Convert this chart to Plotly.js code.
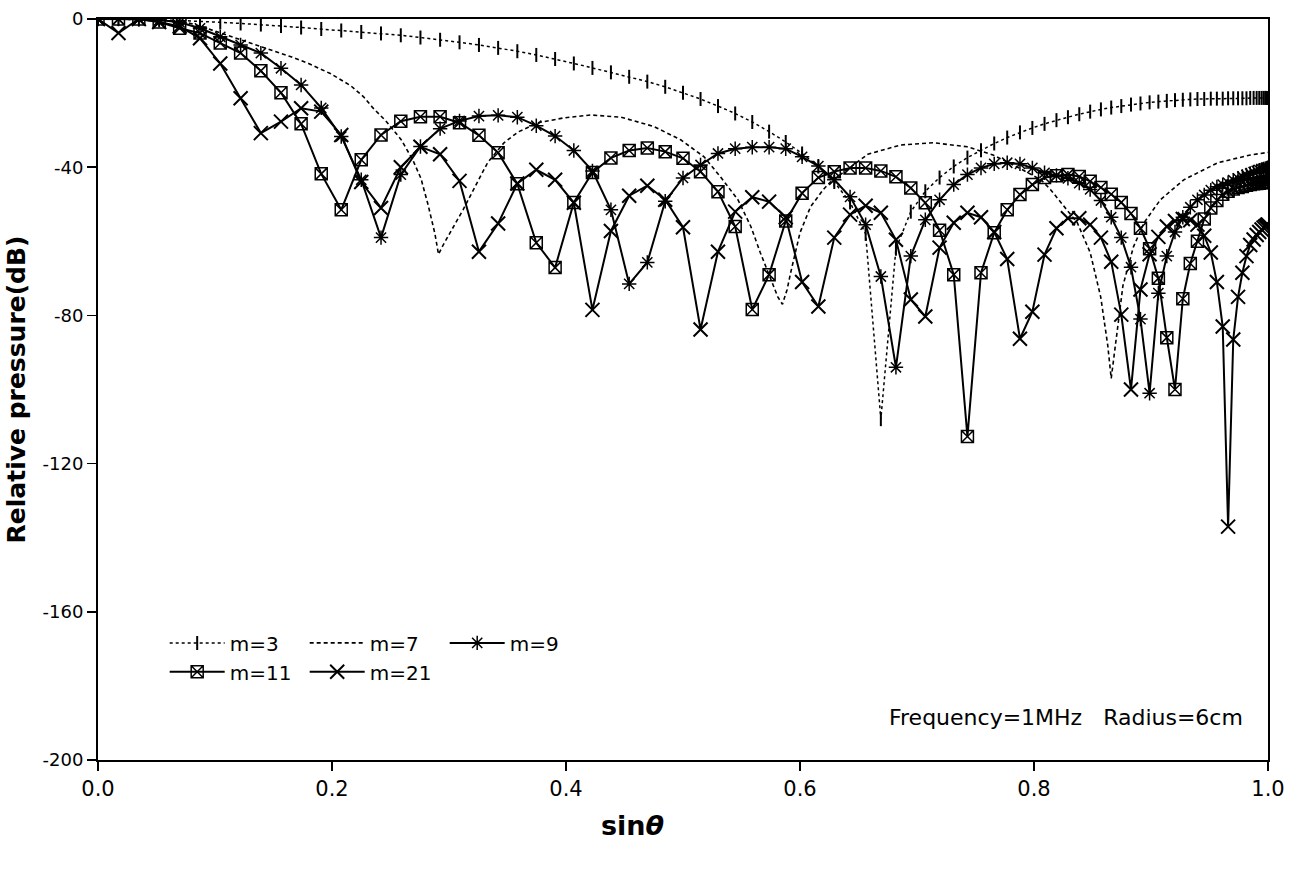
<!DOCTYPE html>
<html>
<head>
<meta charset="utf-8">
<script src="https://cdn.plot.ly/plotly-3.0.1.min.js"></script>
<style>html,body{margin:0;padding:0;background:#fff;}#chart{width:1300px;height:872px;}</style>
</head>
<body>
<div id="chart"></div>
<script>
// sin(theta) sampled every degree from 0 to 90
const sinTheta = [0,0.0175,0.0349,0.0523,0.0698,0.0872,0.1045,0.1219,0.1392,0.1564,
0.1736,0.1908,0.2079,0.2250,0.2419,0.2588,0.2756,0.2924,0.3090,0.3256,
0.3420,0.3584,0.3746,0.3907,0.4067,0.4226,0.4384,0.4540,0.4695,0.4848,
0.5000,0.5150,0.5299,0.5446,0.5592,0.5736,0.5878,0.6018,0.6157,0.6293,
0.6428,0.6561,0.6691,0.6820,0.6947,0.7071,0.7193,0.7314,0.7431,0.7547,
0.7660,0.7771,0.7880,0.7986,0.8090,0.8192,0.8290,0.8387,0.8480,0.8572,
0.8660,0.8746,0.8829,0.8910,0.8988,0.9063,0.9135,0.9205,0.9272,0.9336,
0.9397,0.9455,0.9511,0.9563,0.9613,0.9659,0.9703,0.9744,0.9781,0.9816,
0.9848,0.9877,0.9903,0.9925,0.9945,0.9962,0.9976,0.9986,0.9994,0.9998,1.0000];

const m3 = [0,0,-0.1,-0.2,-0.4,-0.6,-0.9,-1.2,-1.5,-1.9,
-2.3,-2.7,-3.1,-3.5,-3.9,-4.4,-5.0,-5.6,-6.3,-7.0,
-7.8,-8.7,-9.7,-10.8,-12.0,-13.2,-14.4,-15.6,-16.9,-18.3,
-19.9,-21.6,-23.5,-25.5,-27.8,-30.4,-33.2,-36.3,-39.8,-44.0,
-49.5,-58,-108,-62,-52,-46.5,-42.8,-39.8,-37.4,-35.4,
-33.6,-32.0,-30.6,-29.4,-28.3,-27.3,-26.5,-25.7,-25.0,-24.4,
-23.9,-23.5,-23.1,-22.8,-22.5,-22.3,-22.1,-21.9,-21.8,-21.7,
-21.6,-21.6,-21.5,-21.5,-21.5,-21.4,-21.4,-21.4,-21.4,-21.4,
-21.3,-21.3,-21.3,-21.3,-21.3,-21.3,-21.3,-21.3,-21.3,-21.3,-21.3];

const m9 = [0,0,-0.1,-0.3,-0.9,-2.5,-4.8,-7.0,-9.2,-13.3,
-17.8,-24.0,-31.7,-43.4,-59.0,-42.0,-34.4,-29.6,-27.5,-26.2,
-26.0,-26.5,-28.8,-31.6,-35.5,-41.0,-51.5,-71.5,-65.7,-49.2,
-42.9,-39.4,-36.3,-35.0,-34.6,-34.6,-35.0,-37.2,-39.7,-43.4,
-48.0,-55.5,-69.5,-94.0,-64.0,-54.2,-48.8,-44.7,-42.0,-40.2,
-39.1,-38.8,-39.1,-40.2,-41.5,-42.2,-43.0,-44.3,-46.0,-49.0,
-53.5,-59.0,-67.0,-81.0,-101.0,-74.0,-64.0,-57.5,-53.5,-50.8,
-48.8,-47.5,-46.2,-45.3,-44.7,-44.2,-43.5,-43.0,-42.5,-42.1,
-41.7,-41.3,-41.0,-40.8,-40.6,-40.5,-40.4,-40.3,-40.2,-40.2,-40.2];

const m11 = [0,0,0,-0.8,-2.5,-3.8,-6.5,-9.2,-14.0,-19.9,
-28.3,-41.8,-51.5,-38.0,-31.3,-27.6,-26.4,-26.4,-28.0,-31.4,
-36.1,-44.5,-60.4,-67.1,-49.5,-41.4,-37.5,-35.5,-34.8,-35.8,
-37.6,-41.2,-46.6,-56.0,-78.4,-69.0,-54.5,-47.0,-42.8,-41.2,
-40.2,-40.2,-41.0,-42.6,-45.6,-49.6,-57.0,-69.0,-112.7,-68.5,
-57.7,-51.5,-47.4,-44.7,-42.8,-42.3,-42.0,-42.5,-43.8,-45.5,
-47.3,-49.5,-52.5,-56.5,-62.0,-70.0,-86.0,-100.0,-75.5,-66.0,
-60.0,-54.0,-51.0,-49.0,-47.3,-46.5,-45.9,-45.5,-45.2,-44.9,
-44.7,-44.5,-44.4,-44.3,-44.2,-44.1,-44.0,-44.0,-44.0,-44.0,-44.0];

const m21 = [0,-3.8,0,-0.8,-2.0,-5.2,-12.0,-21.4,-30.8,-27.7,
-24.1,-25.0,-31.3,-44.0,-51.0,-40.0,-34.5,-36.5,-43.7,-62.8,
-55.2,-44.4,-40.7,-43.4,-49.6,-78.5,-57.2,-47.7,-45.0,-48.8,
-56.2,-83.8,-62.8,-52.0,-48.1,-49.3,-53.5,-71.0,-77.6,-59.0,
-52.8,-50.4,-52.3,-59.6,-75.7,-80.3,-61.7,-55.0,-52.3,-53.5,
-57.5,-64.8,-86.3,-79.0,-63.6,-56.5,-53.8,-53.8,-55.5,-59.0,
-65.5,-79.8,-100.0,-73.0,-63.5,-58.8,-56.0,-54.5,-54.0,-54.3,
-55.5,-58.5,-63.0,-71.0,-83.0,-137.0,-86.5,-75.0,-68.5,-64.0,
-61.0,-59.5,-58.3,-57.5,-56.8,-56.3,-56.0,-55.8,-55.6,-55.5,-55.5];

// m=7 is drawn as a smooth curve (no markers)
const m7X = [0,0.03,0.06,0.077,0.088,0.105,0.122,0.14,0.165,0.18,0.199,0.216,0.227,0.235,0.246,0.259,0.269,0.276,0.282,0.288,0.291,0.295,0.301,0.312,0.324,0.333,0.347,0.359,0.376,0.398,0.421,0.447,0.475,0.498,0.518,0.532,0.547,0.558,0.566,0.575,0.581,0.585,0.589,0.592,0.600,0.609,0.620,0.626,0.643,0.658,0.686,0.714,0.743,0.765,0.786,0.806,0.814,0.837,0.848,0.857,0.863,0.866,0.868,0.871,0.876,0.885,0.894,0.908,0.928,0.957,0.985,1.0];
const m7Y = [0,-0.1,-0.5,-1.0,-2.0,-3.8,-5.7,-7.7,-10.2,-12,-14.8,-18,-21,-24,-27.5,-32.5,-38,-43,-50,-58,-63.5,-61,-57.7,-51.5,-44.2,-38.8,-33.4,-30.5,-28,-26.7,-25.9,-26.5,-29,-32.6,-37.2,-42.6,-48.8,-56,-63,-70,-75,-77,-73,-68.5,-57.7,-50.7,-46,-44,-40,-36.5,-34,-33.4,-34.5,-36.7,-40,-43.4,-46,-55,-63,-75,-88,-97,-92,-84,-72,-61.5,-55,-48.8,-43.4,-38.8,-36.7,-36];

const xTicks = [0, 0.2, 0.4, 0.6, 0.8, 1.0];
const xTickText = ['0.0','0.2','0.4','0.6','0.8','1.0'];
const yTicks = [-200, -160, -120, -80, -40, 0];
const yTickText = ['-200','-160','-120','-80','-40','0'];

const FONT = 'DejaVu Sans, Liberation Sans, Arial, sans-serif';

const traces = [
  {x: sinTheta, y: m3, name: 'm=3', mode: 'lines+markers', legend: 'legend',
   line: {color: '#000', width: 1.5, dash: '3px,3px'},
   marker: {symbol: 'line-ns-open', size: 10, color: '#000', line: {color: '#000', width: 2}}},
  {x: m7X, y: m7Y, name: 'm=7', mode: 'lines', legend: 'legend',
   line: {color: '#000', width: 1.6, dash: '4px,3px'}},
  {x: sinTheta, y: m9, name: 'm=9', mode: 'lines+markers', legend: 'legend',
   line: {color: '#000', width: 2},
   marker: {symbol: 'asterisk-open', size: 12, color: '#000', line: {color: '#000', width: 1.5}}},
  {x: sinTheta, y: m11, name: 'm=11', mode: 'lines+markers', legend: 'legend2',
   line: {color: '#000', width: 2},
   marker: {symbol: 'square-x-open', size: 12, color: '#000', line: {color: '#000', width: 1.5}}},
  {x: sinTheta, y: m21, name: 'm=21', mode: 'lines+markers', legend: 'legend2',
   line: {color: '#000', width: 2},
   marker: {symbol: 'x-thin-open', size: 14, color: '#000', line: {color: '#000', width: 2}}}
];

const legendCommon = {
  orientation: 'h', xanchor: 'left', yanchor: 'middle',
  font: {family: FONT, size: 20, color: '#000'},
  bgcolor: 'rgba(0,0,0,0)', borderwidth: 0,
  itemwidth: 55, entrywidth: 70, entrywidthmode: 'pixels',
  tracegroupgap: 0, itemclick: false
};

const layout = {
  width: 1300, height: 872,
  paper_bgcolor: '#fff', plot_bgcolor: '#fff',
  margin: {l: 98, r: 32, t: 19, b: 112},
  font: {family: FONT, color: '#000'},
  showlegend: true,
  legend: Object.assign({}, legendCommon, {x: 0.057, y: 0.158}),
  legend2: Object.assign({}, legendCommon, {x: 0.057, y: 0.119}),
  xaxis: {
    range: [0, 1], tickvals: xTicks, ticktext: xTickText,
    ticks: 'outside', ticklen: 9, tickwidth: 1.5, tickcolor: '#000',
    showline: true, linecolor: '#000', linewidth: 2, mirror: true,
    showgrid: false, zeroline: false,
    tickfont: {family: FONT, size: 21, color: '#000'}
  },
  yaxis: {
    range: [-200, 0], tickvals: yTicks, ticktext: yTickText,
    ticks: 'outside', ticklen: 9, tickwidth: 1.5, tickcolor: '#000',
    showline: true, linecolor: '#000', linewidth: 2, mirror: true,
    showgrid: false, zeroline: false,
    tickfont: {family: FONT, size: 18, color: '#000'},
    title: {text: '<b>Relative pressure(dB)</b>', font: {family: FONT, size: 25, color: '#000'}, standoff: 10}
  },
  annotations: [
    {xref: 'paper', yref: 'paper', x: 0.980, y: 0.058, xanchor: 'right', yanchor: 'middle',
     text: 'Frequency=1MHz\u00a0\u00a0\u00a0Radius=6cm', showarrow: false,
     font: {family: FONT, size: 22, color: '#000'}},
    {xref: 'paper', yref: 'paper', x: 0.457, y: -0.089, xanchor: 'center', yanchor: 'middle',
     text: '<b>sin<i>θ</i></b>', showarrow: false,
     font: {family: FONT, size: 27, color: '#000'}}
  ]
};

Plotly.newPlot('chart', traces, layout, {displayModeBar: false, staticPlot: true});
</script>
</body>
</html>
